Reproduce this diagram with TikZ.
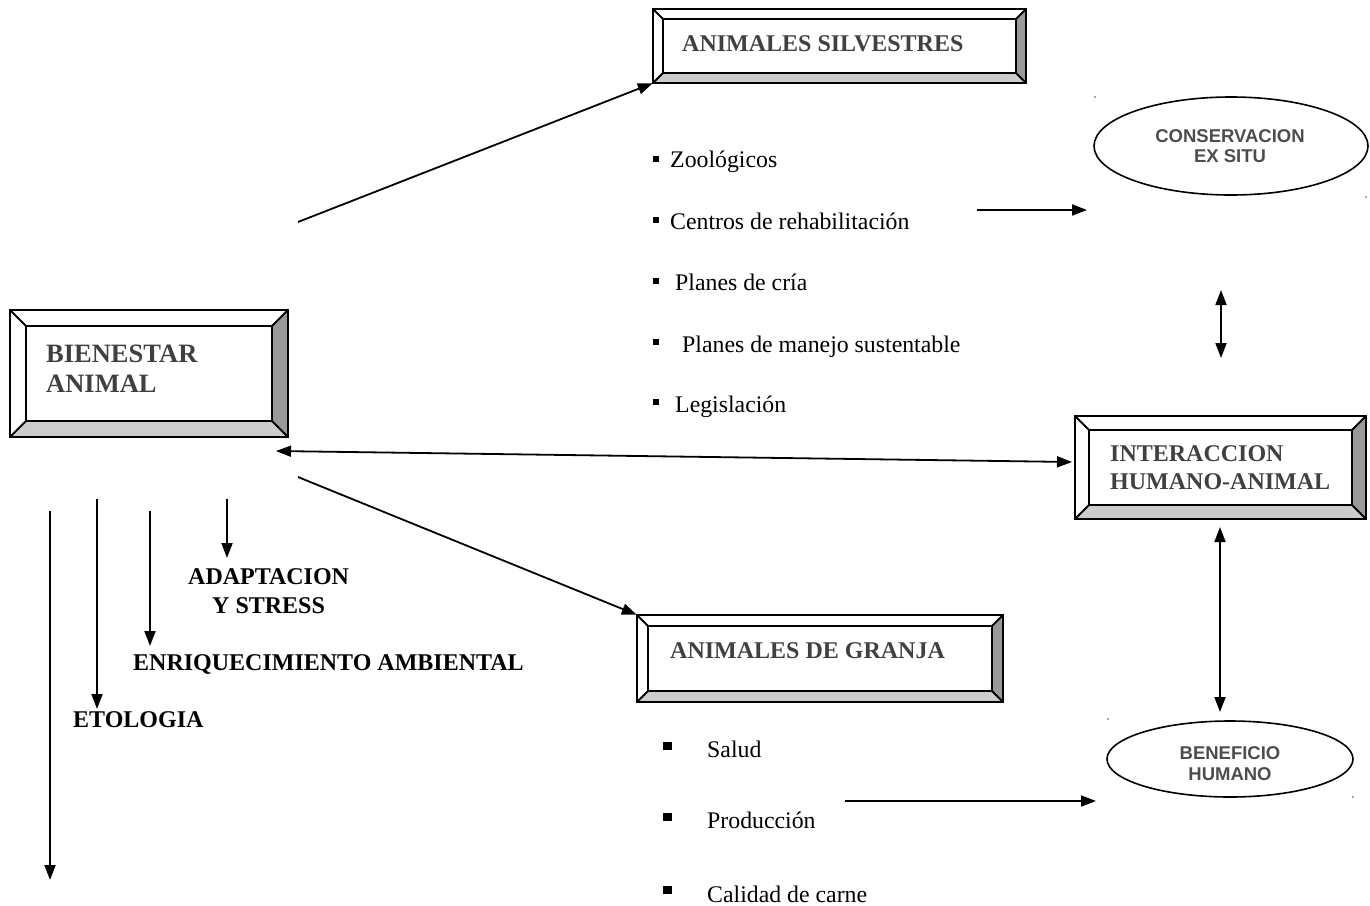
\documentclass[tikz,border=0pt]{standalone}
\usepackage{fontspec}
\setmainfont{Liberation Serif}
\newfontfamily\arialf{Liberation Sans}
\usetikzlibrary{arrows.meta,shapes.geometric,fit}
\definecolor{bevdark}{HTML}{999999}
\definecolor{bevlight}{HTML}{CCCCCC}
\definecolor{boxtext}{HTML}{404040}
\definecolor{elltext}{HTML}{4D4D4D}
\tikzset{
  bevline/.style={line width=2pt, line join=miter},
  conn/.style={line width=1.8pt, -{Triangle[length=15pt,width=11pt]}},
  dconn/.style={line width=1.8pt, {Triangle[length=15pt,width=11pt]}-{Triangle[length=15pt,width=11pt]}},
  boxtitle/.style={anchor=base west, inner sep=0, text=boxtext, font=\bfseries\fontsize{24}{28}\selectfont},
  bigtitle/.style={anchor=base west, inner sep=0, text=boxtext, font=\bfseries\fontsize{26.5}{30}\selectfont},
  topic/.style={anchor=base west, inner sep=0, font=\bfseries\fontsize{24}{28}\selectfont},
  item/.style={anchor=base west, inner sep=0, font=\fontsize{23.8}{27}\selectfont},
  elltitle/.style={anchor=base, inner sep=0, text=elltext, font=\arialf\bfseries\fontsize{18.5}{22}\selectfont},
  ell/.style={ellipse, draw, line width=1.6pt, inner sep=0},
  bulsm/.style={rectangle, fill=black, inner sep=0, minimum size=6pt},
  bulbig/.style={rectangle, fill=black, inner sep=0, minimum width=9pt, minimum height=8.5pt},
  dot/.style={circle, fill=black!70, inner sep=0, minimum size=1.6pt},
}
% name, x1, y1, x2, y2, bevel
\newcommand{\bevbox}[6]{%
  \fill[bevdark] (#4,#3) -- (#4,#5) -- ({#4-#6},{#5-#6}) -- ({#4-#6},{#3+#6}) -- cycle;
  \fill[bevlight] (#2,#5) -- (#4,#5) -- ({#4-#6},{#5-#6}) -- ({#2+#6},{#5-#6}) -- cycle;
  \draw[bevline] (#2,#3) rectangle (#4,#5);
  \draw[bevline] ({#2+#6},{#3+#6}) rectangle ({#4-#6},{#5-#6});
  \draw[bevline] (#2,#3) -- ({#2+#6},{#3+#6});
  \draw[bevline] (#4,#3) -- ({#4-#6},{#3+#6});
  \draw[bevline] (#2,#5) -- ({#2+#6},{#5-#6});
  \draw[bevline] (#4,#5) -- ({#4-#6},{#5-#6});
  \node[fit={(#2,#3) (#4,#5)}, inner sep=0] (#1) {};
}
\begin{document}
\begin{tikzpicture}[x=1pt, y=-1pt]
\useasboundingbox (0,0) rectangle (1370,905);

% boxes
\bevbox{bien}{10}{310}{288}{437}{16}
\bevbox{silv}{653}{9}{1026}{83}{10}
\bevbox{inter}{1075}{416}{1366}{519}{14}
\bevbox{granja}{637}{615}{1003}{702}{11}

\node[bigtitle] (bienA) at (46,362) {BIENESTAR};
\node[bigtitle] (bienB) at (46,392) {ANIMAL};
\node[boxtitle] (silvT) at (682,51) {ANIMALES SILVESTRES};
\node[boxtitle] (interA) at (1110,461) {INTERACCION};
\node[boxtitle] (interB) at (1110,489) {HUMANO-ANIMAL};
\node[boxtitle] (granjaT) at (670,658) {ANIMALES DE GRANJA};

% ellipses
\node[ell, minimum width=274pt, minimum height=98pt] (cons) at (1231,146) {};
\node[elltitle] (consA) at (1230,142) {CONSERVACION};
\node[elltitle] (consB) at (1230,162) {EX SITU};
\node[ell, minimum width=246pt, minimum height=76pt] (benef) at (1230,759) {};
\node[elltitle] (benA) at (1230,759) {BENEFICIO};
\node[elltitle] (benB) at (1230,780) {HUMANO};
\node[dot] (d1) at (1095,97) {};
\node[dot] (d2) at (1366,197) {};
\node[dot] (d3) at (1108,719) {};
\node[dot] (d4) at (1353,797) {};

% silvestres list
\node[bulsm] (s1) at (655.5,159) {};
\node[item] (t1) at (670,167) {Zoológicos};
\node[bulsm] (s2) at (655.5,220) {};
\node[item] (t2) at (670,229) {Centros de rehabilitación};
\node[bulsm] (s3) at (656,281) {};
\node[item] (t3) at (675,290) {Planes de cría};
\node[bulsm] (s4) at (656,342) {};
\node[item] (t4) at (682,352) {Planes de manejo sustentable};
\node[bulsm] (s5) at (656,402) {};
\node[item] (t5) at (675,412) {Legislación};

% granja list
\node[bulbig] (g1) at (667,746) {};
\node[item] (u1) at (707,757) {Salud};
\node[bulbig] (g2) at (667,817) {};
\node[item] (u2) at (707,828) {Producción};
\node[bulbig] (g3) at (667,890) {};
\node[item] (u3) at (707,902) {Calidad de carne};

% topics below bienestar
\node[topic] (adA) at (188,584) {ADAPTACION};
\node[topic] (adB) at (212,613) {Y STRESS};
\node[topic] (enr) at (133,670) {ENRIQUECIMIENTO AMBIENTAL};
\node[topic] (eto) at (73,727) {ETOLOGIA};

% connector end points
\coordinate (c1) at (298,222);
\coordinate (c2) at (298,477);
\coordinate (c3) at (276,451);
\coordinate (c4) at (1072,462);
\coordinate (c5) at (977,210);
\coordinate (c6) at (1087,210);
\coordinate (c7) at (1221,290);
\coordinate (c8) at (1221,358);
\coordinate (c9) at (1220,527);
\coordinate (c10) at (1220,712);
\coordinate (c11) at (845,801);
\coordinate (c12) at (1096,801);
\coordinate (v1a) at (50,511);
\coordinate (v1b) at (50,880);
\coordinate (v2a) at (97,499);
\coordinate (v2b) at (97,709);
\coordinate (v3a) at (150,511);
\coordinate (v3b) at (150,646);
\coordinate (v4a) at (227,499);
\coordinate (v4b) at (227,558);

\draw[conn] (c1) -- (silv.south west);
\draw[conn] (c2) -- (granja.north west);
\draw[dconn] (c3) -- (c4);
\draw[conn] (c5) -- (c6);
\draw[dconn] (c7) -- (c8);
\draw[dconn] (c9) -- (c10);
\draw[conn] (c11) -- (c12);
\draw[conn] (v1a) -- (v1b);
\draw[conn] (v2a) -- (v2b);
\draw[conn] (v3a) -- (v3b);
\draw[conn] (v4a) -- (v4b);
\end{tikzpicture}
\end{document}
